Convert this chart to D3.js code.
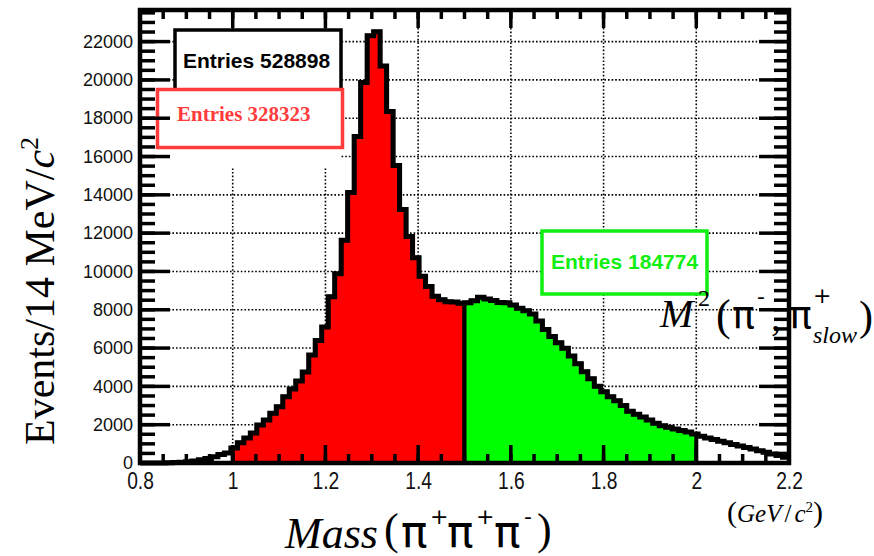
<!DOCTYPE html>
<html>
<head>
<meta charset="utf-8">
<script src="https://cdnjs.cloudflare.com/ajax/libs/d3/7.8.5/d3.min.js"></script>
</head>
<body style="margin:0">
<svg id="chart" width="874" height="556"></svg>
<script>
// histogram binning: 100 bins of 14 MeV between 0.8 and 2.2 GeV
var binLow = 0.8;
var binWidth = 0.014;

// Mass(pi+ pi+ pi-) total
var totalCounts = [
  0, 0, 0, 5, 10, 20, 40, 60, 100, 170,
  240, 330, 440, 520, 780, 1060, 1300, 1560, 1980, 2240,
  2600, 2940, 3460, 3860, 4280, 4750, 5640, 6390, 7100, 8680,
  9880, 11630, 14120, 17040, 19860, 22300, 22520, 20730, 18350, 15530,
  13230, 11820, 10720, 9750, 9220, 8700, 8520, 8420, 8400, 8340,
  8370, 8470, 8650, 8560, 8480, 8380, 8360, 8250, 8080, 7950,
  7780, 7420, 6970, 6600, 6280, 5990, 5580, 5180, 4770, 4400,
  4010, 3720, 3460, 3250, 3000, 2700, 2550, 2400, 2250, 2080,
  1950, 1860, 1780, 1700, 1620, 1520, 1400, 1310, 1230, 1140,
  1060, 970, 890, 810, 730, 640, 560, 470, 390, 300
];

// selected mass windows
var redRange = [1.0, 1.5];
var greenRange = [1.5, 2.0];

// stat boxes
var boxEntries = [528898, 328323, 184774];

// axes
var xTicks = [0.8, 1, 1.2, 1.4, 1.6, 1.8, 2, 2.2];
var xMinorTicks = d3.range(0.85, 2.2, 0.05);
var yTicks = [0, 2000, 4000, 6000, 8000, 10000, 12000, 14000, 16000, 18000, 20000, 22000];
var yMinorTicks = d3.range(500, 23501, 500);
var yMax = 23650;

var svg = d3.select("#chart");

var x = d3.scaleLinear().domain([0.8, 2.2]).range([140, 789]);
var y = d3.scaleLinear().domain([0, yMax]).range([463, 10]);

// dotted grid
var grid = svg.append("g")
  .attr("stroke", "#000")
  .attr("stroke-width", 1.6)
  .attr("stroke-dasharray", "1.6,2");
grid.selectAll(".vg")
  .data(xTicks.slice(1, -1))
  .enter().append("line")
    .attr("x1", function(d) { return x(d); })
    .attr("x2", function(d) { return x(d); })
    .attr("y1", y(yMax)).attr("y2", y(0));
grid.selectAll(".hg")
  .data(yTicks.slice(1))
  .enter().append("line")
    .attr("x1", x(0.8)).attr("x2", x(2.2))
    .attr("y1", function(d) { return y(d); })
    .attr("y2", function(d) { return y(d); });

// bin points for a mass window, clipped at its edges
function windowPoints(lo, hi) {
  var pts = [];
  var last = 0;
  totalCounts.forEach(function(c, i) {
    var x0 = binLow + i * binWidth, x1 = x0 + binWidth;
    if (x1 <= lo + 1e-9 || x0 >= hi - 1e-9) return;
    pts.push({m: Math.max(x0, lo), v: c});
    last = c;
  });
  pts.push({m: hi, v: last});
  return pts;
}

var area = d3.area()
  .curve(d3.curveStepAfter)
  .x(function(d) { return x(d.m); })
  .y0(y(0))
  .y1(function(d) { return y(d.v); });

svg.append("path")
  .datum(windowPoints(redRange[0], redRange[1]))
  .attr("d", area)
  .attr("fill", "#ff0000")
  .attr("stroke", "#000")
  .attr("stroke-width", 4);

svg.append("path")
  .datum(windowPoints(greenRange[0], greenRange[1]))
  .attr("d", area)
  .attr("fill", "#00ff00")
  .attr("stroke", "#000")
  .attr("stroke-width", 4);

// total histogram outline
var outline = totalCounts.map(function(c, i) { return {m: binLow + i * binWidth, v: c}; });
outline.push({m: 2.2, v: totalCounts[totalCounts.length - 1]});
svg.append("path")
  .datum(outline)
  .attr("d", d3.line().curve(d3.curveStepAfter)
    .x(function(d) { return x(d.m); })
    .y(function(d) { return y(d.v); }))
  .attr("fill", "none")
  .attr("stroke", "#000")
  .attr("stroke-width", 5);

// stat boxes
svg.append("rect")
  .attr("x", 175).attr("y", 30).attr("width", 166).attr("height", 70)
  .attr("fill", "#fff").attr("stroke", "#000").attr("stroke-width", 3.5);
svg.append("text")
  .attr("x", 183).attr("y", 68)
  .attr("font-family", "'Liberation Sans', Arial, sans-serif")
  .attr("font-weight", "bold").attr("font-size", 21)
  .text("Entries " + boxEntries[0]);

svg.append("rect")
  .attr("x", 157).attr("y", 89).attr("width", 184).attr("height", 79)
  .attr("fill", "#fff");
svg.append("rect")
  .attr("x", 157.5).attr("y", 89.5).attr("width", 185).attr("height", 58)
  .attr("fill", "none").attr("stroke", "#ff3b3b").attr("stroke-width", 3.5);
svg.append("text")
  .attr("x", 177).attr("y", 121)
  .attr("font-family", "'Liberation Serif', 'Times New Roman', serif")
  .attr("font-weight", "bold").attr("font-size", 21)
  .attr("fill", "#ff3b3b")
  .text("Entries " + boxEntries[1]);

svg.append("rect")
  .attr("x", 542).attr("y", 231).attr("width", 165).attr("height", 63)
  .attr("fill", "#fff").attr("stroke", "#11ee11").attr("stroke-width", 3.5);
svg.append("text")
  .attr("x", 551).attr("y", 269)
  .attr("font-family", "'Liberation Sans', Arial, sans-serif")
  .attr("font-weight", "bold").attr("font-size", 21)
  .attr("fill", "#11ee11")
  .text("Entries " + boxEntries[2]);

// frame
svg.append("rect")
  .attr("x", x(0.8)).attr("y", y(yMax))
  .attr("width", x(2.2) - x(0.8)).attr("height", y(0) - y(yMax))
  .attr("fill", "none").attr("stroke", "#000").attr("stroke-width", 4.5);

// inward ticks on all four sides
var tickG = svg.append("g");
function xTickLines(vals, len) {
  tickG.selectAll(null).data(vals).enter().append("line")
    .attr("x1", function(d) { return x(d); }).attr("x2", function(d) { return x(d); })
    .attr("y1", y(0)).attr("y2", y(0) - len)
    .style("stroke", "#000").style("stroke-width", "3.5px");
  tickG.selectAll(null).data(vals).enter().append("line")
    .attr("x1", function(d) { return x(d); }).attr("x2", function(d) { return x(d); })
    .attr("y1", y(yMax)).attr("y2", y(yMax) + len)
    .style("stroke", "#000").style("stroke-width", "3.5px");
}
function yTickLines(vals, len) {
  tickG.selectAll(null).data(vals).enter().append("line")
    .attr("y1", function(d) { return y(d); }).attr("y2", function(d) { return y(d); })
    .attr("x1", x(0.8)).attr("x2", x(0.8) + len)
    .style("stroke", "#000").style("stroke-width", "3.5px");
  tickG.selectAll(null).data(vals).enter().append("line")
    .attr("y1", function(d) { return y(d); }).attr("y2", function(d) { return y(d); })
    .attr("x1", x(2.2)).attr("x2", x(2.2) - len)
    .style("stroke", "#000").style("stroke-width", "3.5px");
}
xTickLines(xMinorTicks, 9);
xTickLines(xTicks, 18);
yTickLines(yMinorTicks, 15);
yTickLines(yTicks, 30);

// tick labels through d3 axes
svg.append("g")
  .attr("transform", "translate(0," + y(0) + ")")
  .call(d3.axisBottom(x).tickValues(xTicks).tickSize(0).tickPadding(9)
    .tickFormat(d3.format("~g")))
  .call(function(g) { g.select(".domain").remove(); })
  .selectAll("text")
    .attr("font-family", "'Liberation Sans', Arial, sans-serif")
    .attr("font-size", 24)
    .attr("fill", "#111")
    .attr("transform", "scale(0.8,1)");

svg.append("g")
  .attr("transform", "translate(" + x(0.8) + ",0)")
  .call(d3.axisLeft(y).tickValues(yTicks).tickSize(0).tickPadding(7)
    .tickFormat(d3.format("d")))
  .call(function(g) { g.select(".domain").remove(); })
  .selectAll("text")
    .attr("font-family", "'Liberation Sans', Arial, sans-serif")
    .attr("font-size", 18)
    .attr("fill", "#111");

// y title
var serif = "'Liberation Serif', 'Times New Roman', serif";
var piFont = "'DejaVu Sans', sans-serif";
var yTitle = svg.append("text")
  .attr("transform", "translate(54,445) rotate(-90)")
  .attr("font-family", serif).attr("font-size", 42);
yTitle.append("tspan").text("Events/14 MeV/");
yTitle.append("tspan").attr("font-style", "italic").text("c");
yTitle.append("tspan").attr("font-size", 26).attr("dy", -16).text("2");

// x title: Mass(pi+ pi+ pi-)
function put(txt, px, py, font, size, style) {
  svg.append("text")
    .attr("x", px).attr("y", py)
    .attr("font-family", font).attr("font-size", size)
    .attr("font-style", style || "normal")
    .text(txt);
}
put("Mass", 285, 548, serif, 44, "italic");
put("(", 384, 544, serif, 44);
put("\u03c0", 401, 547, piFont, 44);
put("+", 430, 524, piFont, 22);
put("\u03c0", 447, 547, piFont, 44);
put("+", 476, 524, piFont, 22);
put("\u03c0", 494, 547, piFont, 44);
put("-", 524, 524, piFont, 22);
put(")", 537, 544, serif, 44);

// unit label
var unit = svg.append("text")
  .attr("x", 727).attr("y", 522)
  .attr("font-family", serif).attr("font-size", 25);
unit.append("tspan").attr("font-size", 30).text("(");
unit.append("tspan").attr("font-style", "italic").text("GeV");
unit.append("tspan").attr("dx", 3).text("/");
unit.append("tspan").attr("dx", 3).attr("font-style", "italic").text("c");
unit.append("tspan").attr("font-size", 15).attr("dy", -10).text("2");
unit.append("tspan").attr("font-size", 30).attr("dy", 10).text(")");

// M^2(pi-, pi+_slow)
put("M", 660, 327, serif, 40, "italic");
put("2", 698, 306, serif, 24);
put("(", 716, 330, serif, 44);
put("\u03c0", 732, 328, piFont, 38);
put("-", 757, 304, piFont, 22);
put(",", 771, 330, serif, 40);
put("\u03c0", 789, 328, piFont, 38);
put("+", 813, 303, piFont, 22);
put("slow", 813, 343, serif, 24, "italic");
put(")", 859, 330, serif, 42);
</script>
</body>
</html>
